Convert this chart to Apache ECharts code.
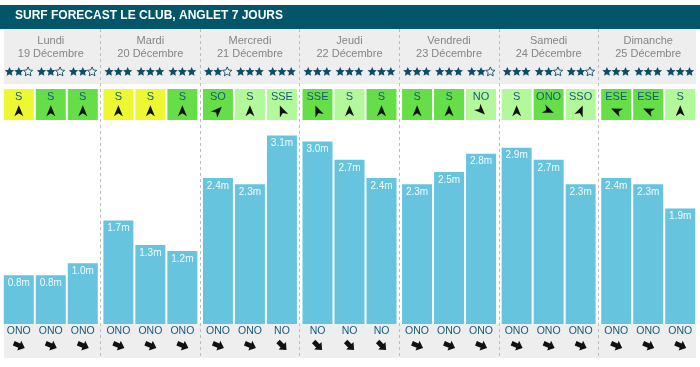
<!DOCTYPE html>
<html><head><meta charset="utf-8">
<script src="https://cdn.jsdelivr.net/npm/echarts@6/dist/echarts.min.js"></script>
<style>html,body{margin:0;padding:0;background:#fff}#c{width:700px;height:367px}</style>
</head><body><div id="c"></div>
<script>
const titleText = 'SURF FORECAST LE CLUB, ANGLET 7 JOURS';
const dayNames = ['Lundi','Mardi','Mercredi','Jeudi','Vendredi','Samedi','Dimanche'];
const dayDates = ['19 Décembre','20 Décembre','21 Décembre','22 Décembre','23 Décembre','24 Décembre','25 Décembre'];
const waveHeights = [0.8,0.8,1.0, 1.7,1.3,1.2, 2.4,2.3,3.1, 3.0,2.7,2.4, 2.3,2.5,2.8, 2.9,2.7,2.3, 2.4,2.3,1.9];
const starRatings = [2,2,2, 3,3,3, 2,3,3, 3,3,3, 3,3,2, 3,2,2, 3,3,3];
const windDirs = ['S','S','S', 'S','S','S', 'SO','S','SSE', 'SSE','S','S', 'S','S','NO', 'S','ONO','SSO', 'ESE','ESE','S'];
// wind quality: 0 = yellow, 1 = green, 2 = light green
const windLevels = [0,1,1, 0,0,1, 1,2,2, 1,2,1, 1,1,2, 2,1,2, 1,1,2];
const swellDirs = ['ONO','ONO','ONO', 'ONO','ONO','ONO', 'ONO','ONO','NO', 'NO','NO','NO', 'ONO','ONO','ONO', 'ONO','ONO','ONO', 'ONO','ONO','ONO'];

const compass = {N:0,NNE:22.5,NE:45,ENE:67.5,E:90,ESE:112.5,SE:135,SSE:157.5,S:180,SSO:202.5,SO:225,OSO:247.5,O:270,ONO:292.5,NO:315,NNO:337.5};
const windColors = ['#eef832','#66de48','#b4f89c'];
const FONT = 'Arial, "Liberation Sans", sans-serif';
const GL = 1, GR = 2, SLOT = 32, STAR_STEP = 9.3;

const chart = echarts.init(document.getElementById('c'));
const slotData = waveHeights.map((_, i) => [Math.floor(i / 3), 0.5]);
function slotX(api, i) { return api.coord([Math.floor(i / 3), 0])[0] + (i % 3 - 1) * SLOT; }
function rot(dirName) { return -((compass[dirName] + 180) % 360) * Math.PI / 180; }

const windArrow = [[0,-5.5],[4.5,5.5],[0,2.5],[-4.5,5.5]];
const swellArrow = [[0,-6.5],[5.2,-0.5],[2.4,-0.5],[2.4,5.5],[-2.4,5.5],[-2.4,-0.5],[-5.2,-0.5]];
const starShape = (() => {
  const pts = [];
  for (let k = 0; k < 10; k++) {
    const r = k % 2 ? 2.3 : 4.9, a = Math.PI * k / 5;
    pts.push([r * Math.sin(a), -r * Math.cos(a) + 0.5]);
  }
  return pts;
})();

const barSeries = [0,1,2].map(s => ({
  type: 'bar', xAxisIndex: 0, yAxisIndex: 0,
  data: dayNames.map((_, d) => waveHeights[d * 3 + s]),
  barWidth: 30, barGap: '6.67%',
  itemStyle: {color: '#66c4de'},
  label: {show: true, position: 'insideTop', distance: 3, color: '#f4fbfd', fontSize: 10, fontFamily: FONT,
    formatter: p => p.value.toFixed(1) + 'm'}
}));

function hiddenX(i) { return {type: 'category', gridIndex: i, data: dayNames, show: false}; }
function hiddenY(i, max) { return {type: 'value', gridIndex: i, min: 0, max: max, show: false}; }

chart.setOption({
  animation: false,
  title: {text: titleText, left: 15, top: 10, padding: 0,
    textStyle: {color: '#fff', fontSize: 12, fontWeight: 'bold', fontFamily: FONT}},
  graphic: [
    {type: 'rect', shape: {x: 0, y: 5, width: 700, height: 24}, style: {fill: '#02566a'}, z: -1},
    {type: 'rect', shape: {x: 4, y: 29, width: 692, height: 55}, style: {fill: '#eeeeee'}, z: -1},
    {type: 'rect', shape: {x: 4, y: 324, width: 692, height: 34}, style: {fill: '#eeeeee'}, z: -1}
  ],
  grid: [
    {left: GL, right: GR, top: 129.4, bottom: 43},
    {left: GL, right: GR, top: 29, height: 55},
    {left: GL, right: GR, top: 89, height: 31},
    {left: GL, right: GR, top: 324, height: 34},
    {left: GL, right: GR, top: 29, height: 329}
  ],
  xAxis: [
    hiddenX(0),
    {type: 'category', gridIndex: 1, data: dayNames, position: 'top',
      axisLine: {show: false}, axisTick: {show: false}, splitLine: {show: false},
      axisLabel: {inside: true, margin: 6, color: '#858585', fontSize: 11, lineHeight: 12.5, fontFamily: FONT,
        formatter: (v, i) => v + '\n' + dayDates[i]}},
    hiddenX(2), hiddenX(3),
    {type: 'category', gridIndex: 4, data: dayNames, z: 5,
      axisLine: {show: false}, axisTick: {show: false}, axisLabel: {show: false},
      splitLine: {show: true, showMinLine: false, showMaxLine: false,
        lineStyle: {color: '#bbbbbb', type: [3, 3], width: 1}}}
  ],
  yAxis: [hiddenY(0, 3.2), hiddenY(1, 1), hiddenY(2, 1), hiddenY(3, 1), hiddenY(4, 1)],
  series: barSeries.concat([
    {type: 'custom', xAxisIndex: 1, yAxisIndex: 1, data: slotData,
      renderItem: (params, api) => {
        const i = params.dataIndex, x = slotX(api, i), y = api.coord([0, 0.23])[1];
        const r = starRatings[i];
        return {type: 'group', children: [0,1,2].map(k => ({
          type: 'polygon', x: x + (k - 1) * STAR_STEP, y: y, shape: {points: starShape},
          style: k < r ? {fill: '#0d4d66'} : {fill: 'none', stroke: '#0d4d66', lineWidth: 0.9}
        }))};
      }},
    {type: 'custom', xAxisIndex: 2, yAxisIndex: 2, data: slotData,
      renderItem: (params, api) => {
        const i = params.dataIndex, x = slotX(api, i);
        const top = api.coord([0, 1])[1], bot = api.coord([0, 0])[1];
        return {type: 'group', children: [
          {type: 'rect', shape: {x: x - 15, y: top, width: 30, height: bot - top}, style: {fill: windColors[windLevels[i]]}},
          {type: 'text', x: x, y: api.coord([0, 0.742])[1], style: {text: windDirs[i], fill: '#17597a',
            fontSize: 11, fontFamily: FONT, align: 'center', verticalAlign: 'middle'}},
          {type: 'polygon', x: x, y: api.coord([0, 0.3])[1], rotation: rot(windDirs[i]),
            shape: {points: windArrow}, style: {fill: '#111'}}
        ]};
      }},
    {type: 'custom', xAxisIndex: 3, yAxisIndex: 3, data: slotData,
      renderItem: (params, api) => {
        const i = params.dataIndex, x = slotX(api, i);
        return {type: 'group', children: [
          {type: 'text', x: x, y: api.coord([0, 0.794])[1], style: {text: swellDirs[i], fill: '#17597a',
            fontSize: 10.5, fontFamily: FONT, align: 'center', verticalAlign: 'middle'}},
          {type: 'polygon', x: x, y: api.coord([0, 0.37])[1], rotation: rot(swellDirs[i]),
            shape: {points: swellArrow}, style: {fill: '#111'}}
        ]};
      }}
  ])
});
</script></body></html>
